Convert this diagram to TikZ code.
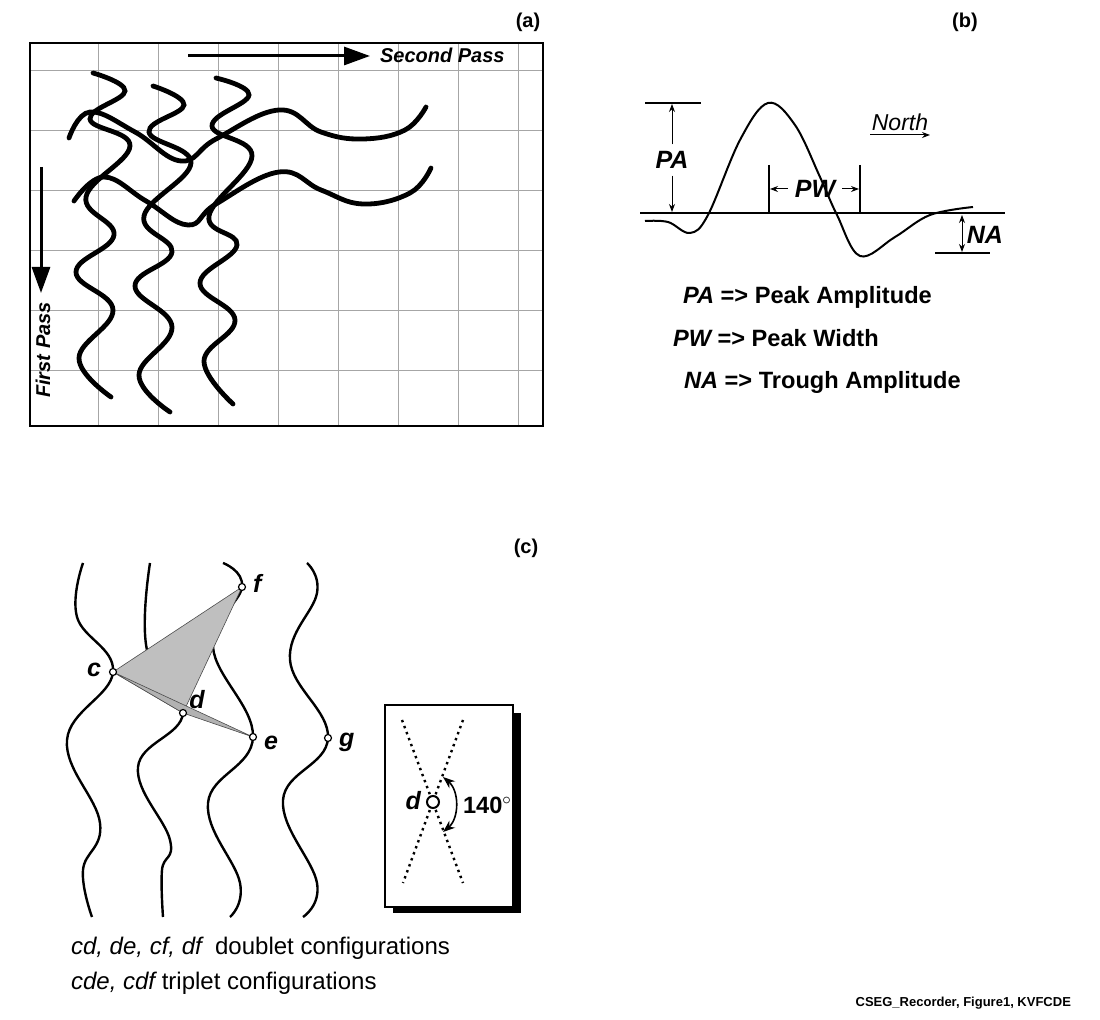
\documentclass[tikz,border=0pt]{standalone}
\usepackage{fontspec}
\setmainfont{Liberation Sans}
\usetikzlibrary{arrows.meta}

\tikzset{
  lbl/.style={font=\bfseries\fontsize{10}{12}\selectfont},
  big/.style={font=\bfseries\fontsize{11.8}{14}\selectfont},
  ital/.style={font=\bfseries\itshape\fontsize{10}{12}\selectfont},
  bigital/.style={font=\bfseries\itshape\fontsize{12.5}{15}\selectfont},
  thick wave/.style={line width=2.4pt,line cap=round},
  thin wave/.style={line width=1.2pt},
  grid line/.style={gray!70,line width=0.4pt},
  pt/.style={circle,draw=black,fill=white,inner sep=0pt,minimum size=3.5pt,line width=0.6pt},
  dim/.style={-{Stealth[length=4pt]},line width=0.5pt}
}

\begin{document}
\begin{tikzpicture}[x=0.5pt,y=-0.5pt]
  \useasboundingbox (0,0) rectangle (1100,1020);

  % panel (a)
  \node[lbl] (la) at (528,22) {(a)};
  \foreach \x in {98,158,...,518} \draw[grid line] (\x,43) -- (\x,426);
  \foreach \y in {70,130,...,370} \draw[grid line] (30,\y) -- (543,\y);
  \draw[line width=0.9pt] (30,43) rectangle (543,426);
  \draw[thick wave] plot[smooth,tension=0.7] coordinates {(93,73) (125,91) (90,119) (130,146) (86,197) (114,235) (76,272) (113,310) (79,358) (111,397)};
  \draw[thick wave] plot[smooth,tension=0.7] coordinates {(153,86) (184,105) (149,132) (191,163) (144,216) (172,252) (135,286) (172,327) (139,375) (170,412)};
  \draw[thick wave] plot[smooth,tension=0.7] coordinates {(216,78) (249,95) (212,126) (252,156) (209,216) (237,245) (200,283) (235,320) (204,361) (233,404)};
  \draw[thick wave] plot[smooth,tension=0.7] coordinates {(69,138) (90,112) (135,132) (181,161) (216,139) (279,110) (321,132) (363,139) (405,130) (426,107)};
  \draw[thick wave] plot[smooth,tension=0.7] coordinates {(74,201) (104,177) (146,201) (188,225) (216,204) (279,172) (321,190) (363,204) (410,193) (431,168)};
  \coordinate (sp0) at (188,56);
  \coordinate (sp1) at (370,56);
  \draw[line width=1.5pt,-{Triangle[length=13pt,width=9pt]}] (sp0) -- (sp1);
  \node[ital,anchor=west] (sp) at (373,55) {Second Pass};
  \coordinate (fp0) at (41,167);
  \coordinate (fp1) at (41,293);
  \draw[line width=1.5pt,-{Triangle[length=13pt,width=9pt]}] (fp0) -- (fp1);
  \node[ital,rotate=90] (fp) at (43,350) {First Pass};

  % panel (b)
  \node[lbl] (lb) at (965,22) {(b)};
  \draw[line width=1pt] (640,213) -- (1005,213);
  \draw[line width=1pt] plot[smooth,tension=0.6] coordinates {(645,221) (668,222) (690,233) (708,215) (740,140) (768,103) (795,125) (820,177) (837,215) (860,256) (895,237) (930,215) (973,207)};
  \draw[line width=0.6pt] (645,103) -- (701,103);
  \node[bigital] (pa) at (672,160) {PA};
  \draw[dim] (pa.north) -- (672,104);
  \draw[dim] (pa.south) -- (672,212);
  \draw[line width=0.6pt] (769,165) -- (769,213) (860,165) -- (860,213);
  \node[bigital] (pw) at (815,189) {PW};
  \draw[dim] (pw.west) -- (770,189);
  \draw[dim] (pw.east) -- (859,189);
  \node[font=\itshape\fontsize{11.5}{13}\selectfont] (north) at (900,122) {North};
  \draw[dim] (870,135) -- (930,135);
  \draw[line width=0.6pt] (935,253) -- (990,253);
  \node[bigital] (na) at (985,235) {NA};
  \draw[{Stealth[length=4pt]}-{Stealth[length=4pt]},line width=0.5pt] (962,215) -- (962,252);
  \node[big,anchor=west] (l1) at (676,297) {\itshape PA\upshape\ => Peak Amplitude};
  \node[big,anchor=west] (l2) at (666,338) {\itshape PW\upshape\ => Peak Width};
  \node[big,anchor=west] (l3) at (677,382) {\itshape NA\upshape\ => Trough Amplitude};

  % panel (c)
  \node[lbl] (lc) at (526,548) {(c)};
  \draw[thin wave] plot[smooth,tension=0.7] coordinates {(83,563) (77,617) (113,672) (67,740) (100,823) (83,870) (92,917)};
  \draw[thin wave] plot[smooth,tension=0.7] coordinates {(150,563) (147,650) (183,713) (138,767) (170,840) (162,870) (163,917)};
  \draw[thin wave] plot[smooth,tension=0.7] coordinates {(223,563) (242,587) (213,647) (253,737) (208,803) (240,883) (230,917)};
  \draw[thin wave] plot[smooth,tension=0.7] coordinates {(307,563) (317,593) (290,660) (328,738) (283,800) (317,883) (303,917)};
  \coordinate (c) at (113,672);
  \coordinate (d) at (183,713);
  \coordinate (e) at (253,737);
  \coordinate (f) at (242,587);
  \coordinate (g) at (328,738);
  \fill[gray!50,draw=black!70,line width=0.3pt] (c) -- (f) -- (d) -- cycle;
  \fill[gray!60,draw=black!70,line width=0.3pt] (c) -- (d) -- (e) -- cycle;
  \foreach \p in {c,d,e,f,g} \node[pt] (\p p) at (\p) {};
  \node[bigital,anchor=east] at (108,670) {c};
  \node[bigital] at (197,700) {d};
  \node[bigital,anchor=west] at (257,743) {e};
  \node[bigital,anchor=west] at (246,583) {f};
  \node[bigital,anchor=west] at (332,742) {g};

  % inset
  \fill (393,713) rectangle (521,913);
  \draw[fill=white,line width=0.6pt] (385,705) rectangle (513,907);
  \coordinate (x1) at (402,720);
  \coordinate (x2) at (463,883);
  \coordinate (x3) at (463,720);
  \coordinate (x4) at (403,883);
  \draw[line width=1.2pt,dotted] (x1) -- (x2) (x3) -- (x4);
  \node[pt,minimum size=6pt,line width=1pt] (dd) at (433,802) {};
  \node[bigital,anchor=east] at (428,801) {d};
  \draw[line width=0.8pt,{Stealth[length=6pt]}-{Stealth[length=6pt]}] (443,777) to[bend left=50] (443,832);
  \node[big,anchor=west] at (456,805) {140$^{\circ}$};

  % captions
  \node[font=\fontsize{12}{14}\selectfont,anchor=west] (t1) at (64,948) {\itshape cd, de, cf, df\upshape\ \ doublet configurations};
  \node[font=\fontsize{12}{14}\selectfont,anchor=west] (t2) at (64,983) {\itshape cde, cdf\upshape\ triplet configurations};
  \node[font=\bfseries\fontsize{6.5}{8}\selectfont,anchor=east] (cr) at (1078,1003) {CSEG\_Recorder, Figure1, KVFCDE};
\end{tikzpicture}
\end{document}
